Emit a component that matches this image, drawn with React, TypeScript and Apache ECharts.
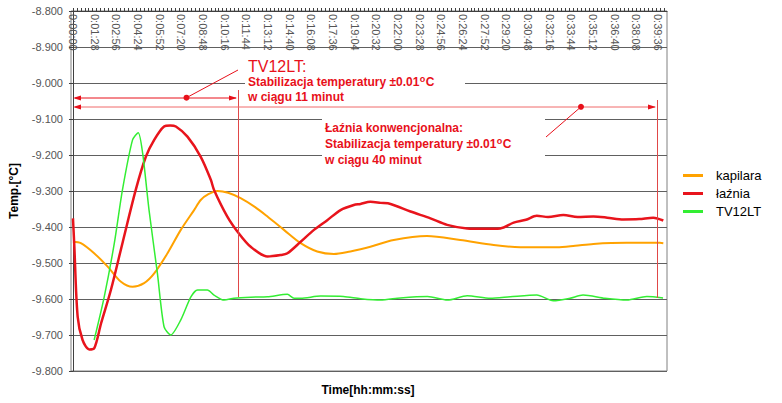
import React, { useEffect, useRef } from 'react';
import * as echarts from 'echarts';

const FONT = 'Arial, "Liberation Sans", Helvetica, sans-serif';

// x-axis tick labels (every 88 s)
const timeLabels = [
  '0:00:00', '0:01:28', '0:02:56', '0:04:24', '0:05:52', '0:07:20', '0:08:48',
  '0:10:16', '0:11:44', '0:13:12', '0:14:40', '0:16:08', '0:17:36', '0:19:04',
  '0:20:32', '0:22:00', '0:23:28', '0:24:56', '0:26:24', '0:27:52', '0:29:20',
  '0:30:48', '0:32:16', '0:33:44', '0:35:12', '0:36:40', '0:38:08', '0:39:36',
];
const labelStepSec = 88;
const tickStepSec = 16;

const seriesNames = ['kapilara', 'łaźnia', 'TV12LT'];

// [time in seconds, temperature °C]
const kapilara: [number, number][] = [
  [0, -9.441], [32, -9.445], [86, -9.473], [141, -9.51], [195, -9.552], [242, -9.566],
  [289, -9.556], [330, -9.529], [384, -9.473], [438, -9.408], [492, -9.353], [519, -9.325],
  [550, -9.309], [587, -9.3], [630, -9.305], [681, -9.32], [740, -9.345], [790, -9.371],
  [857, -9.408], [925, -9.445], [992, -9.468], [1060, -9.475], [1127, -9.468], [1168, -9.462],
  [1208, -9.455], [1303, -9.436], [1438, -9.425], [1573, -9.436], [1709, -9.45], [1817, -9.456],
  [1966, -9.456], [2040, -9.452], [2114, -9.447], [2249, -9.444], [2384, -9.444], [2398, -9.445],
];

const laznia: [number, number][] = [
  [0, -9.376], [5, -9.445], [19, -9.649], [39, -9.714], [66, -9.74], [86, -9.737],
  [114, -9.668], [154, -9.575], [201, -9.445], [255, -9.297], [296, -9.205], [330, -9.158],
  [370, -9.121], [395, -9.118], [418, -9.121], [465, -9.149], [519, -9.205], [560, -9.269],
  [573, -9.297], [627, -9.371], [674, -9.418], [722, -9.455], [790, -9.482], [843, -9.478],
  [871, -9.473], [925, -9.441], [979, -9.408], [1033, -9.381], [1087, -9.353], [1141, -9.339],
  [1168, -9.336], [1208, -9.33], [1250, -9.333], [1290, -9.336], [1371, -9.357], [1452, -9.376],
  [1520, -9.394], [1601, -9.404], [1670, -9.405], [1736, -9.404], [1790, -9.388], [1840, -9.38],
  [1884, -9.369], [1930, -9.372], [1992, -9.367], [2050, -9.372], [2114, -9.371], [2170, -9.374],
  [2236, -9.379], [2300, -9.378], [2357, -9.374], [2398, -9.382],
];

const tv12lt: [number, number][] = [
  [86, -9.714], [127, -9.594], [168, -9.445], [201, -9.297], [242, -9.158], [265, -9.138],
  [283, -9.195], [309, -9.353], [343, -9.529], [370, -9.677], [397, -9.7], [438, -9.658],
  [479, -9.594], [506, -9.575], [546, -9.575], [573, -9.589], [614, -9.603], [654, -9.598],
  [722, -9.595], [790, -9.594], [871, -9.587], [898, -9.598], [925, -9.598], [1006, -9.592],
  [1099, -9.593], [1168, -9.599], [1249, -9.603], [1330, -9.597], [1440, -9.593], [1521, -9.603],
  [1601, -9.591], [1695, -9.598], [1776, -9.594], [1884, -9.589], [1951, -9.605], [2019, -9.598],
  [2072, -9.589], [2161, -9.598], [2250, -9.603], [2331, -9.593], [2397, -9.597],
];

const RED = '#e8101a';
const stabText = 'Stabilizacja temperatury ±0.01';

function measure(text: string, font: string): number {
  const ctx = document.createElement('canvas').getContext('2d');
  if (!ctx) return text.length * 6.5;
  ctx.font = font;
  return ctx.measureText(text).width;
}

function stabLine(x: number, y: number) {
  const w = measure(stabText, `bold 12px ${FONT}`);
  const wo = measure('o', `bold 9px ${FONT}`);
  const base = { fill: RED, fontFamily: FONT, fontWeight: 'bold', verticalAlign: 'middle' };
  return [
    { type: 'text', z: 102, x, y, style: { ...base, text: stabText, fontSize: 12 } },
    { type: 'text', z: 102, x: x + w + 0.5, y: y - 3.5, style: { ...base, text: 'o', fontSize: 9 } },
    { type: 'text', z: 102, x: x + w + wo + 1, y, style: { ...base, text: 'C', fontSize: 12 } },
  ];
}

export default function App() {
  const ref = useRef<HTMLDivElement>(null);
  useEffect(() => {
    if (!ref.current) return;
    const chart = echarts.init(ref.current, null, { renderer: 'svg' });
    const labelValues = timeLabels.map((_, i) => i * labelStepSec);
    const tickValues: number[] = [];
    for (let t = 0; t <= 2410; t += tickStepSec) tickValues.push(t);

    chart.setOption({
      animation: false,
      backgroundColor: '#fff',
      textStyle: { fontFamily: FONT },
      grid: {
        left: 70, right: 115, top: 11, bottom: 32,
        show: true, borderColor: '#808080', borderWidth: 1,
      },
      legend: {
        orient: 'vertical',
        left: 678,
        top: 164,
        icon: 'rect',
        itemWidth: 20,
        itemHeight: 3,
        itemGap: 5,
        data: seriesNames,
        textStyle: { fontSize: 13, color: '#000', fontFamily: FONT, padding: [0, 0, 0, 8] },
      },
      xAxis: {
        type: 'value',
        position: 'top',
        min: -8,
        max: 2413,
        axisLine: { show: true, onZero: false, lineStyle: { color: '#404040' } },
        axisTick: { show: true, length: 3, customValues: tickValues, lineStyle: { color: '#404040' } },
        axisLabel: {
          inside: true,
          rotate: 90,
          margin: 3,
          customValues: labelValues,
          formatter: (v: number) => timeLabels[Math.round(v / labelStepSec)] ?? '',
          color: '#555',
          fontSize: 11,
          fontFamily: FONT,
        },
        splitLine: { show: false },
      },
      yAxis: {
        type: 'value',
        min: -9.8,
        max: -8.8,
        interval: 0.1,
        name: 'Temp.[°C]',
        nameLocation: 'middle',
        nameGap: 51,
        nameTextStyle: { fontSize: 12, fontWeight: 'bold', color: '#000', fontFamily: FONT },
        axisLine: { show: true, lineStyle: { color: '#404040' } },
        axisTick: { show: true, length: 4, lineStyle: { color: '#404040' } },
        axisLabel: {
          formatter: (v: number) => v.toFixed(3),
          color: '#555',
          fontSize: 11,
          margin: 8,
          fontFamily: FONT,
        },
        splitLine: { lineStyle: { color: '#606060', width: 1 } },
      },
      series: [
        {
          name: seriesNames[0], type: 'line', data: kapilara, showSymbol: false, smooth: 0.3,
          itemStyle: { color: '#ffa200' }, lineStyle: { color: '#ffa200', width: 2 }, z: 2,
        },
        {
          name: seriesNames[1], type: 'line', data: laznia, showSymbol: false, smooth: 0.3,
          itemStyle: { color: '#e8141c' }, lineStyle: { color: '#e8141c', width: 2.5 }, z: 3,
        },
        {
          name: seriesNames[2], type: 'line', data: tv12lt, showSymbol: false, smooth: 0.25,
          itemStyle: { color: '#33ee33' }, lineStyle: { color: '#33ee33', width: 1.5 }, z: 4,
        },
      ],
      graphic: [
        // white boxes behind annotation texts
        { type: 'rect', z: 100, shape: { x: 245, y: 58, width: 220, height: 46 }, style: { fill: '#fff' } },
        { type: 'rect', z: 100, shape: { x: 322, y: 113, width: 223, height: 57 }, style: { fill: '#fff' } },
        // vertical markers
        { type: 'line', z: 101, shape: { x1: 238.5, y1: 90, x2: 238.5, y2: 297 }, style: { stroke: '#e04848', lineWidth: 1 } },
        { type: 'line', z: 101, shape: { x1: 657.5, y1: 100, x2: 657.5, y2: 298 }, style: { stroke: '#e04848', lineWidth: 1 } },
        // arrow 1 (11 minutes)
        { type: 'line', z: 101, shape: { x1: 75, y1: 98, x2: 236, y2: 98 }, style: { stroke: RED, lineWidth: 1 } },
        { type: 'polygon', z: 101, shape: { points: [[73, 98], [81, 95.5], [81, 100.5]] }, style: { fill: RED } },
        { type: 'polygon', z: 101, shape: { points: [[237, 98], [229, 95.5], [229, 100.5]] }, style: { fill: RED } },
        { type: 'circle', z: 101, shape: { cx: 186.5, cy: 97.7, r: 3 }, style: { fill: RED } },
        { type: 'line', z: 101, shape: { x1: 186.5, y1: 97.7, x2: 238, y2: 70 }, style: { stroke: RED, lineWidth: 1 } },
        // arrow 2 (40 minutes)
        { type: 'line', z: 101, shape: { x1: 75, y1: 107, x2: 655, y2: 107 }, style: { stroke: '#f06a6a', lineWidth: 1 } },
        { type: 'polygon', z: 101, shape: { points: [[73, 107], [81, 104.5], [81, 109.5]] }, style: { fill: RED } },
        { type: 'polygon', z: 101, shape: { points: [[656, 107], [648, 104.5], [648, 109.5]] }, style: { fill: RED } },
        { type: 'circle', z: 101, shape: { cx: 581, cy: 106.8, r: 3 }, style: { fill: RED } },
        { type: 'line', z: 101, shape: { x1: 581, y1: 106.8, x2: 546, y2: 137 }, style: { stroke: RED, lineWidth: 1 } },
        // texts
        {
          type: 'text', z: 102, x: 248, y: 66,
          style: { text: 'TV12LT:', fill: RED, fontSize: 16, fontFamily: FONT, verticalAlign: 'middle' },
        },
        ...stabLine(248, 82),
        {
          type: 'text', z: 102, x: 248, y: 97,
          style: { text: 'w ciągu 11 minut', fill: RED, fontSize: 12, fontWeight: 'bold', fontFamily: FONT, verticalAlign: 'middle' },
        },
        {
          type: 'text', z: 102, x: 325, y: 128,
          style: { text: 'Łaźnia konwencjonalna:', fill: RED, fontSize: 12, fontWeight: 'bold', fontFamily: FONT, verticalAlign: 'middle' },
        },
        ...stabLine(325, 144),
        {
          type: 'text', z: 102, x: 325, y: 160,
          style: { text: 'w ciągu 40 minut', fill: RED, fontSize: 12, fontWeight: 'bold', fontFamily: FONT, verticalAlign: 'middle' },
        },
        // x-axis title
        {
          type: 'text', z: 102, x: 368, y: 390,
          style: { text: 'Time[hh:mm:ss]', fill: '#000', fontSize: 12, fontWeight: 'bold', fontFamily: FONT, align: 'center', verticalAlign: 'middle' },
        },
      ],
    });
    return () => chart.dispose();
  }, []);
  return <div ref={ref} style={{ position: 'absolute', left: 0, top: 0, width: 782, height: 403 }} />;
}
